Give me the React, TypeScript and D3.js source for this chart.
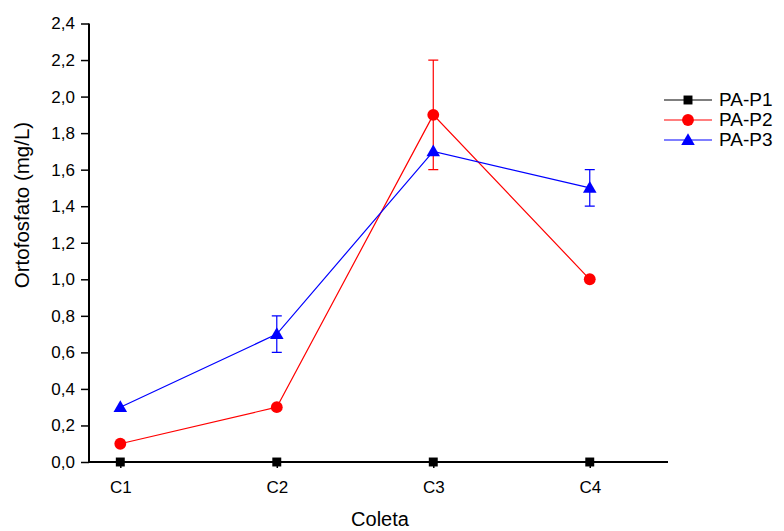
import React, { useEffect, useRef } from 'react';
import * as d3 from 'd3';

const categories = ['C1', 'C2', 'C3', 'C4'];
const yTicks = [0, 0.2, 0.4, 0.6, 0.8, 1.0, 1.2, 1.4, 1.6, 1.8, 2.0, 2.2, 2.4];

const p1 = [0, 0, 0, 0];
const p2 = [0.1, 0.3, 1.9, 1.0];
const p2Err = [0, 0, 0.3, 0];
const p3 = [0.3, 0.7, 1.7, 1.5];
const p3Err = [0, 0.1, 0, 0.1];

const series = [
  { name: 'PA-P1', values: p1, errors: [0, 0, 0, 0], color: '#000000', symbol: d3.symbolSquare, size: 80 },
  { name: 'PA-P2', values: p2, errors: p2Err, color: '#ff0000', symbol: d3.symbolCircle, size: 110 },
  { name: 'PA-P3', values: p3, errors: p3Err, color: '#0000ff', symbol: d3.symbolTriangle, size: 80 },
];

const App = () => {
  const ref = useRef(null);

  useEffect(() => {
    const width = 784, height = 531;
    const left = 89, bottom = 462, top = 23.5, right = 668;

    d3.select(ref.current).selectAll('*').remove();
    const svg = d3.select(ref.current)
      .append('svg')
      .attr('width', width)
      .attr('height', height)
      .style('position', 'absolute')
      .style('left', 0)
      .style('top', 0)
      .style('font-family', 'Arial, "Liberation Sans", sans-serif');

    // categories sit at 1..4, axis runs 0.8 to 4.5
    const x = d3.scaleLinear().domain([0.8, 4.5]).range([left, right]);
    const y = d3.scaleLinear().domain([0, 2.4]).range([bottom, top]);

    // y axis
    const yAxis = svg.append('g')
      .attr('transform', `translate(${left},0)`)
      .call(d3.axisLeft(y).tickValues(yTicks).tickSize(8).tickPadding(6)
        .tickFormat(d => d3.format('.1f')(d).replace('.', ',')));
    yAxis.attr('font-size', 17);
    yAxis.select('.domain').attr('stroke-width', 2).attr('d', `M0,${bottom}V${top}`);
    yAxis.selectAll('.tick line').attr('stroke-width', 1.5);
    yAxis.selectAll('text').attr('fill', '#000');

    // x axis
    const xAxis = svg.append('g')
      .attr('transform', `translate(0,${bottom})`)
      .call(d3.axisBottom(x).tickValues([1, 2, 3, 4]).tickSize(6).tickPadding(13)
        .tickFormat((d, i) => categories[i]));
    xAxis.attr('font-size', 17);
    xAxis.select('.domain').attr('stroke-width', 2).attr('d', `M${left},0H${right}`);
    xAxis.selectAll('.tick line').attr('stroke-width', 1.5);
    xAxis.selectAll('text').attr('fill', '#000');

    svg.append('text')
      .attr('x', 380)
      .attr('y', 526)
      .attr('text-anchor', 'middle')
      .style('font-size', '20px')
      .text('Coleta');

    svg.append('text')
      .attr('transform', 'translate(29,205) rotate(-90)')
      .attr('text-anchor', 'middle')
      .style('font-size', '20.5px')
      .text('Ortofosfato (mg/L)');

    const line = d3.line<number>()
      .x((d, i) => x(i + 1))
      .y(d => y(d));

    series.forEach(s => {
      const g = svg.append('g');
      g.append('path')
        .attr('d', line(s.values))
        .attr('fill', 'none')
        .attr('stroke', s.color)
        .attr('stroke-width', 1.2);

      s.values.forEach((v, i) => {
        const e = s.errors[i];
        if (!e) return;
        const cx = x(i + 1);
        g.append('path')
          .attr('d', `M${cx},${y(v + e)}V${y(v - e)}M${cx - 5},${y(v + e)}H${cx + 5}M${cx - 5},${y(v - e)}H${cx + 5}`)
          .attr('fill', 'none')
          .attr('stroke', s.color)
          .attr('stroke-width', 1.2);
      });

      g.selectAll('path.pt')
        .data(s.values)
        .enter()
        .append('path')
        .attr('class', 'pt')
        .attr('d', d3.symbol().type(s.symbol).size(s.size))
        .attr('transform', (d, i) => `translate(${x(i + 1)},${y(d) + (s.symbol === d3.symbolTriangle ? 1 : 0)})`)
        .attr('fill', s.color);
    });

    // legend
    const legend = svg.append('g').attr('transform', 'translate(664,100)');
    series.forEach((s, i) => {
      const row = legend.append('g').attr('transform', `translate(0,${i * 20})`);
      row.append('line')
        .attr('x1', 0).attr('x2', 48)
        .attr('stroke', s.color)
        .attr('stroke-width', 1.2);
      row.append('path')
        .attr('d', d3.symbol().type(s.symbol).size(s.size))
        .attr('transform', `translate(24,${s.symbol === d3.symbolTriangle ? 1 : 0})`)
        .attr('fill', s.color);
      row.append('text')
        .attr('x', 55)
        .attr('y', 6)
        .style('font-size', '19px')
        .text(s.name);
    });
  }, []);

  return <div ref={ref} />;
};

export default App;
